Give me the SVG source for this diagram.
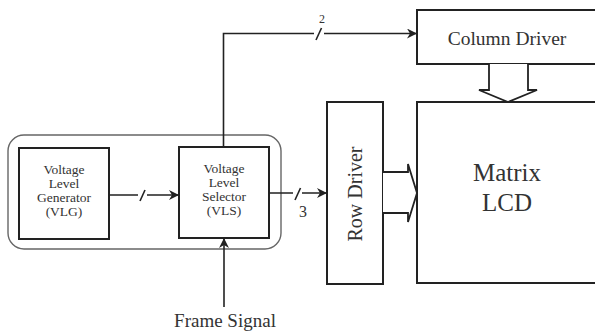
<svg xmlns="http://www.w3.org/2000/svg" width="595" height="331" viewBox="0 0 595 331">
<style>
.box{fill:#fff;stroke:#222;stroke-width:2}
.ln{fill:none;stroke:#222;stroke-width:1.6}
.blk{fill:#fff;stroke:#222;stroke-width:1.8}
.t{fill:#333;text-anchor:middle}
.s{font-size:13.5px}
</style>
<defs>
<marker id="ah" viewBox="0 0 10 10" refX="10" refY="5" markerWidth="10" markerHeight="10" markerUnits="userSpaceOnUse" orient="auto">
<path d="M0,0 L10,5 L0,10 L3,5 Z" fill="#222"/>
</marker>
</defs>
<rect width="595" height="331" fill="#fff"/>
<g font-family="Liberation Serif, DejaVu Serif, serif">
<g id="container"><rect x="8" y="135" width="273" height="114" rx="16" fill="none" stroke="#666" stroke-width="1.4"/></g>
<g id="vlg"><rect class="box" x="19" y="148" width="90" height="91"/>
<text class="t s" x="64" y="174">Voltage</text><text class="t s" x="64" y="188">Level</text><text class="t s" x="64" y="202">Generator</text><text class="t s" x="64" y="216">(VLG)</text></g>
<g id="vls"><rect class="box" x="179" y="147" width="90" height="91"/>
<text class="t s" x="224" y="173">Voltage</text><text class="t s" x="224" y="187">Level</text><text class="t s" x="224" y="201">Selector</text><text class="t s" x="224" y="215">(VLS)</text></g>
<g id="column-driver"><rect class="box" x="417" y="10" width="190" height="54"/>
<text class="t" x="507" y="45" font-size="19.5">Column Driver</text></g>
<g id="row-driver"><rect class="box" x="327" y="102" width="56" height="182"/>
<text class="t" x="0" y="0" font-size="20" transform="translate(362,194) rotate(-90)">Row Driver</text></g>
<g id="matrix-lcd"><rect class="box" x="417" y="102" width="190" height="181"/>
<text class="t" x="507" y="181" font-size="25">Matrix</text><text class="t" x="507" y="211" font-size="25">LCD</text></g>
<g id="frame-signal"><text class="t" x="225" y="327" font-size="19" fill="#111">Frame Signal</text></g>
<g id="connectors">
<path class="ln" d="M109,195 H138 M147,195 H179" marker-end="url(#ah)"/>
<line class="ln" x1="140" y1="201" x2="145" y2="190"/>
<path class="ln" d="M269,193 H293 M302,193 H327" marker-end="url(#ah)"/>
<line class="ln" x1="295" y1="200" x2="300.5" y2="188"/>
<text class="t" x="303" y="217" font-size="16" fill="#111">3</text>
<path class="ln" d="M223.5,147 V33.5 H314 M324,33.5 H417" marker-end="url(#ah)"/>
<line class="ln" x1="316" y1="40" x2="321.5" y2="28"/>
<text class="t" x="322" y="23" font-size="12" fill="#111">2</text>
<path class="ln" d="M224,307 V238" marker-end="url(#ah)"/>
<path class="blk" d="M489,64 V90 H479 L508,102 L537,90 H528 V64"/>
<path class="blk" d="M383,172 H408 V164 L417,193 L408,222 V213 H383"/>
</g>
</g>
</svg>
